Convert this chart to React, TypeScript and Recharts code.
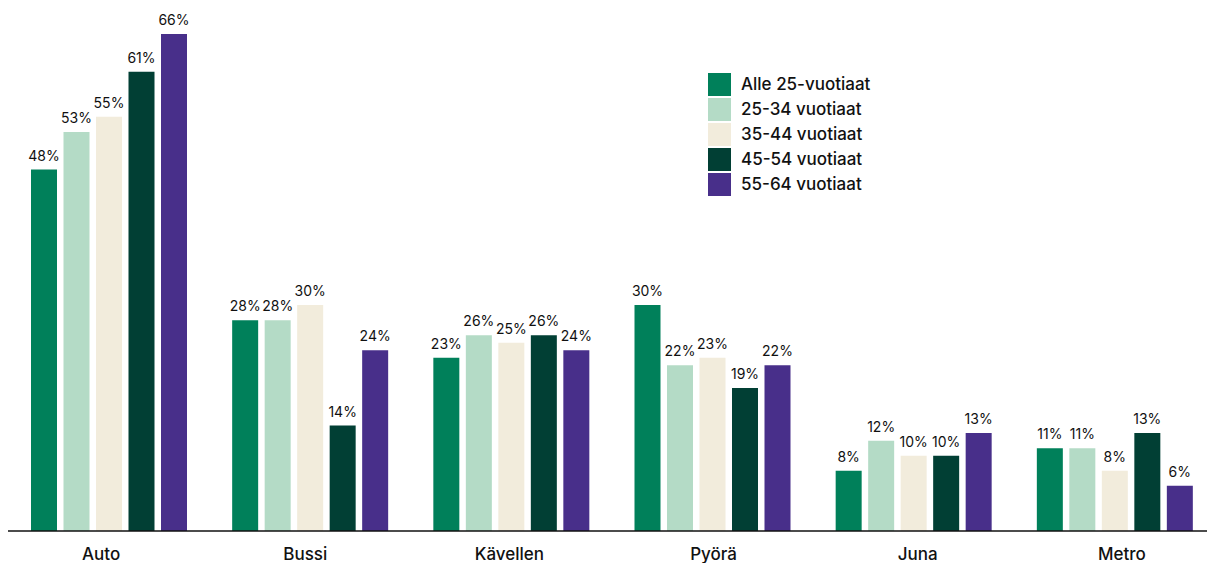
import React from "react";
import { BarChart, Bar, XAxis, YAxis, LabelList } from "recharts";

const categories = ["Auto", "Bussi", "Kävellen", "Pyörä", "Juna", "Metro"];
const seriesNames = [
  "Alle 25-vuotiaat",
  "25-34 vuotiaat",
  "35-44 vuotiaat",
  "45-54 vuotiaat",
  "55-64 vuotiaat",
];
const alle25 = [48, 28, 23, 30, 8, 11];
const v25_34 = [53, 28, 26, 22, 12, 11];
const v35_44 = [55, 30, 25, 23, 10, 8];
const v45_54 = [61, 14, 26, 19, 10, 13];
const v55_64 = [66, 24, 24, 22, 13, 6];
const seriesValues = [alle25, v25_34, v35_44, v45_54, v55_64];
const colors = ["#00805A", "#B4DBC6", "#F2ECDC", "#013F34", "#482F8A"];

const keys = ["s0", "s1", "s2", "s3", "s4"];
const data = categories.map((name, i) => {
  const row: Record<string, any> = { name };
  seriesValues.forEach((arr, s) => {
    row[keys[s]] = arr[i];
  });
  return row;
});

const FONT = "Inter, 'DejaVu Sans', sans-serif";
const TEXT = "#111";

const CategoryTick = (props: any) => {
  const { x, payload, index } = props;
  return (
    <text
      x={x + (index - 2.5) * 3}
      y={560}
      textAnchor="middle"
      fill={TEXT}
      fontSize={17}
      fontWeight={450}
      fontFamily={FONT}
    >
      {payload.value}
    </text>
  );
};

export default function App() {
  return (
    <div
      style={{
        position: "absolute",
        left: 0,
        top: 0,
        width: 1207,
        height: 563,
        overflow: "hidden",
        background: "#fff",
      }}
    >
      <BarChart
        width={1215}
        height={563}
        data={data}
        margin={{ top: 34, right: 0, bottom: 0, left: 8 }}
        barSize={26}
        barGap={6.5}
      >
        <XAxis
          dataKey="name"
          height={32}
          tickLine={false}
          axisLine={{ stroke: "#111", strokeWidth: 1.5 }}
          tick={<CategoryTick />}
          interval={0}
        />
        <YAxis hide domain={[0, 66]} />
        {keys.map((k, i) => (
          <Bar
            key={k}
            dataKey={k}
            name={seriesNames[i]}
            fill={colors[i]}
            isAnimationActive={false}
          >
            <LabelList
              dataKey={k}
              position="top"
              offset={9}
              formatter={(v: any) => `${v}%`}
              fill={TEXT}
              fontSize={14}
              fontWeight={400}
              fontFamily={FONT}
            />
          </Bar>
        ))}
      </BarChart>
      <div
        style={{
          position: "absolute",
          left: 708,
          top: 72,
          fontFamily: FONT,
          color: TEXT,
        }}
      >
        {seriesNames.map((n, i) => (
          <div
            key={n}
            style={{ display: "flex", alignItems: "center", height: 25 }}
          >
            <div
              style={{
                width: 23,
                height: 23,
                background: colors[i],
                marginRight: 10,
              }}
            />
            <span style={{ fontSize: 17, fontWeight: 450, lineHeight: "23px" }}>
              {n}
            </span>
          </div>
        ))}
      </div>
    </div>
  );
}
